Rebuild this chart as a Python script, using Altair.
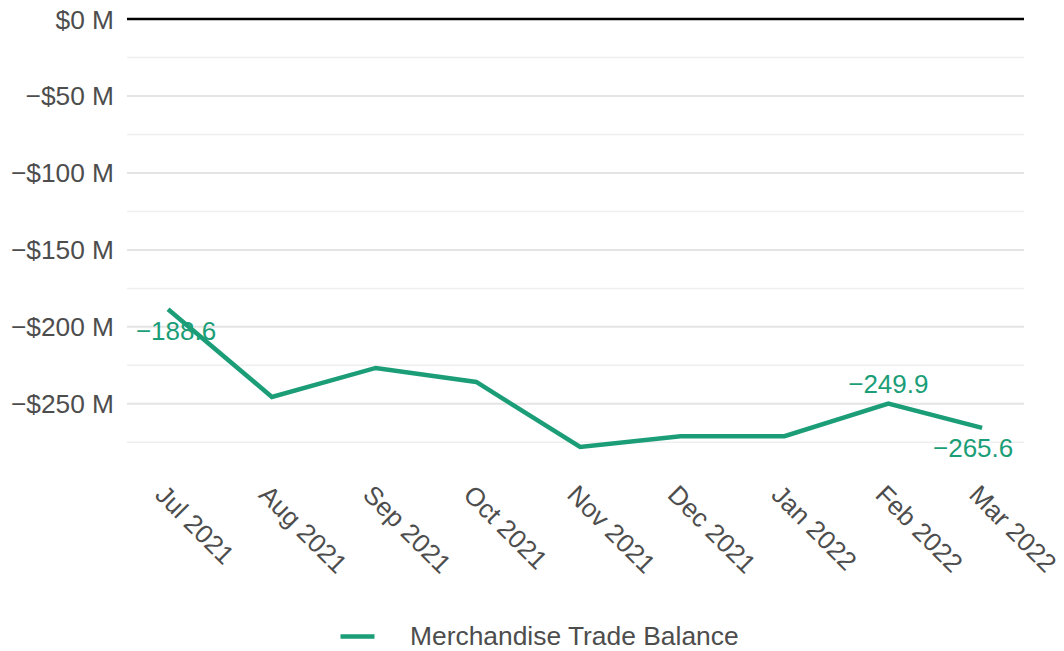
import altair as alt
import pandas as pd

dates = ["2021-07-01", "2021-08-01", "2021-09-01", "2021-10-01", "2021-11-01",
         "2021-12-01", "2022-01-01", "2022-02-01", "2022-03-01"]
values = [-188.6, -245.5, -226.7, -235.8, -278.0, -271.0, -271.0, -249.9, -265.6]
series_name = "Merchandise Trade Balance"
major_ticks = [0, -50, -100, -150, -200, -250]
major_labels = ["$0 M", "\u2212$50 M", "\u2212$100 M", "\u2212$150 M", "\u2212$200 M", "\u2212$250 M"]
minor_ticks = [-25, -75, -125, -175, -225, -275]

GREEN = "#1b9e77"
FONT = "Liberation Sans"
TXT = "#4d4d4d"

df = pd.DataFrame({"date": dates, "key": dates, "value": values, "series": series_name})

x_scale = alt.Scale(type="utc", domain=[
    alt.DateTime(year=2021, month=6, date=18, hours=18, utc=True),
    alt.DateTime(year=2022, month=3, date=13, hours=12, utc=True)])

x = alt.X("date:T", title=None, scale=x_scale,
          axis=alt.Axis(format="%b %Y", tickCount={"interval": "month", "step": 1},
                        labelAngle=45, labelAlign="left", labelBaseline="top",
                        labelFontSize=26, labelFont=FONT, labelColor=TXT,
                        labelPadding=31, labelFlush=False, labelOverlap=False,
                        ticks=False, domain=False, grid=False, labelLimit=400))
y_scale = alt.Scale(domain=[-280, 0], nice=False, zero=False)
y = alt.Y("value:Q", title=None, scale=y_scale, axis=None)

minor = alt.Chart(pd.DataFrame({"m": minor_ticks})).mark_rule(
    color="#efefef", strokeWidth=1.5).encode(
    y=alt.Y("m:Q", scale=y_scale, axis=None))

ylab_df = pd.DataFrame({"v": major_ticks, "t": major_labels})
major = alt.Chart(ylab_df).transform_filter(alt.datum.v != 0).mark_rule(
    color="#e4e4e4", strokeWidth=2).encode(
    y=alt.Y("v:Q", scale=y_scale, axis=None))

ylabels = alt.Chart(ylab_df).mark_text(
    align="right", baseline="middle", fontSize=26.3, font=FONT, color=TXT, dy=1.5).encode(
    x=alt.value(-13),
    y=alt.Y("v:Q", scale=y_scale, axis=None),
    text="t:N")

base = alt.Chart(df)

line = base.mark_line(strokeWidth=4.5).encode(
    x=x, y=y,
    color=alt.Color("series:N", title=None,
                    scale=alt.Scale(domain=[series_name], range=[GREEN]),
                    legend=alt.Legend(orient="none", legendX=211, legendY=598,
                                      symbolType="stroke", symbolSize=1156,
                                      symbolStrokeWidth=4.5, labelFontSize=26.4,
                                      labelFont=FONT, labelColor=TXT,
                                      labelOffset=33, labelLimit=600)),
)

zero = alt.Chart(pd.DataFrame({"z": [0]})).mark_rule(color="black", strokeWidth=2.5).encode(
    y=alt.Y("z:Q", scale=y_scale, axis=None)
)

def label_layer(k, dx, dy):
    return base.transform_filter(alt.datum.key == k).transform_calculate(
        lab="replace(format(datum.value, '.1f'), '-', '\u2212')"
    ).mark_text(color=GREEN, fontSize=26, font=FONT, dx=dx, dy=dy,
                align="center", baseline="middle").encode(
        x=x, y=y, text="lab:N")

chart = alt.layer(
    minor, major, ylabels, line, zero,
    label_layer("2021-07-01", 8, 23),
    label_layer("2022-02-01", 0, -19),
    label_layer("2022-03-01", -9, 21),
).properties(
    width=897, height=431,
    autosize=alt.AutoSizeParams(type="none"),
    padding={"left": 119, "top": 11, "right": 32, "bottom": 199},
).configure_view(stroke=None)

chart.save("out.html", embed_options={"renderer": "svg", "actions": False})
